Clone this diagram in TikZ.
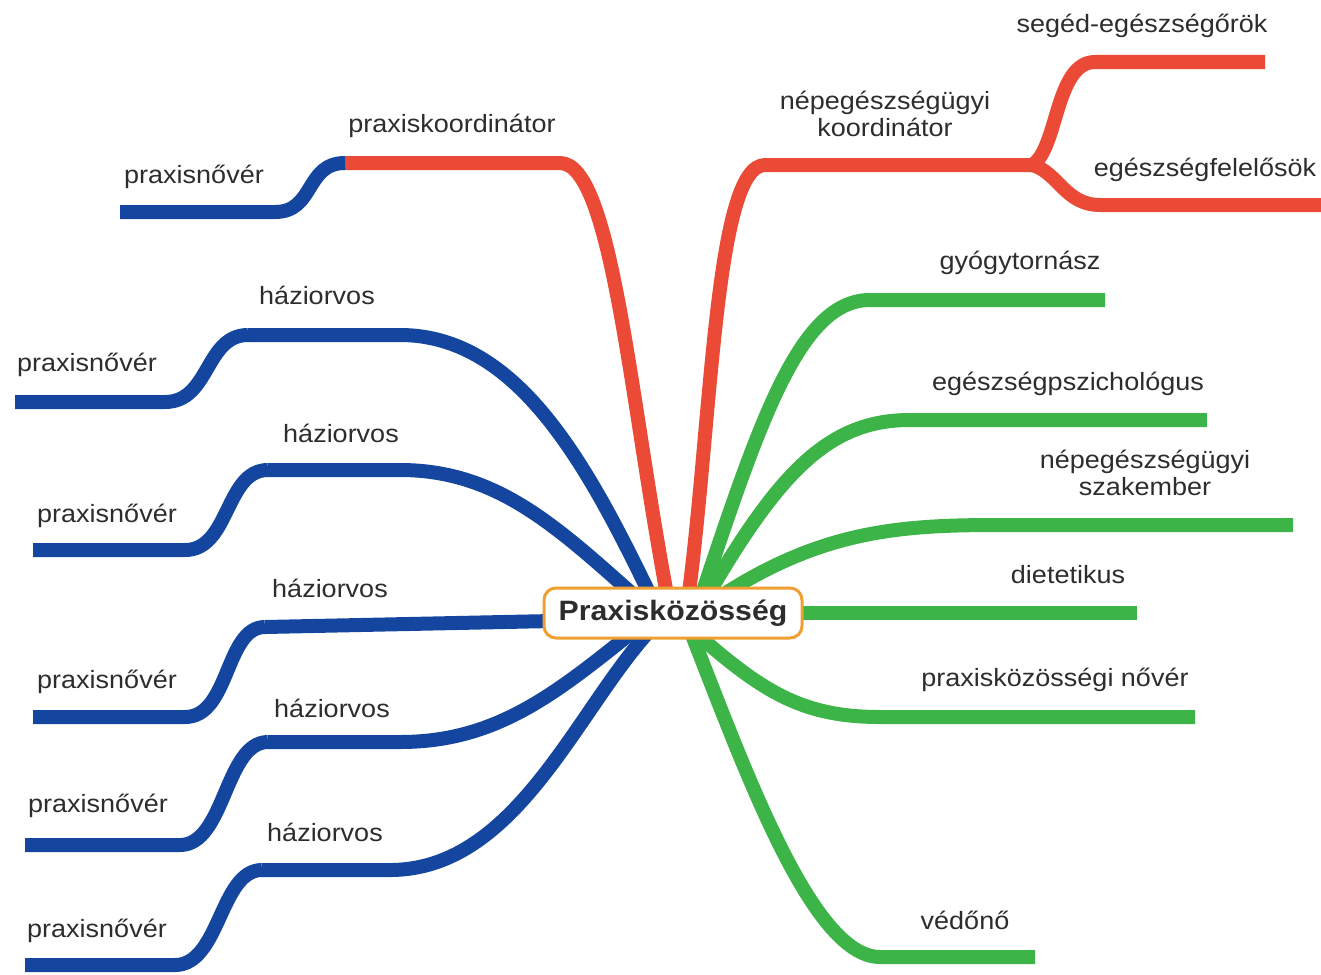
\documentclass[tikz,border=0pt]{standalone}
\usepackage{fontspec}
\setmainfont{Liberation Sans}
\newfontfamily\labfont[FakeStretch=1.08]{Liberation Sans}
\definecolor{mmred}{RGB}{234,74,54}
\definecolor{mmblue}{RGB}{20,70,160}
\definecolor{mmgreen}{RGB}{60,180,72}
\definecolor{mmorange}{RGB}{240,160,50}
\definecolor{mmtext}{RGB}{45,45,45}
\tikzset{
  br/.style={line width=14pt, line cap=butt, line join=round},
  bl/.style={br, draw=mmblue},
  rd/.style={br, draw=mmred},
  gr/.style={br, draw=mmgreen},
  lbl/.style={font=\labfont\fontsize{25}{27}\selectfont, text=mmtext, align=center, inner sep=0pt},
  centerbox/.style={draw=mmorange, line width=3pt, fill=white, rounded corners=12pt,
    minimum width=258pt, minimum height=50pt, inner sep=0pt,
    font=\labfont\bfseries\fontsize{28}{30}\selectfont, text=mmtext}
}
\begin{document}
\begin{tikzpicture}[x=1pt,y=-1pt]
\useasboundingbox (0,0) rectangle (1321,974);
\coordinate (C) at (673,613);
% ---------- red left: praxiskoordinator ----------
\coordinate (pk1) at (560,163); \coordinate (pk0) at (345,163);
\coordinate (pn0a) at (275,212); \coordinate (pn0b) at (120,212);
\draw[rd] (668,600) .. controls (630,400) and (612,163) .. (pk1) -- (pk0);
\draw[bl] (pk0) .. controls (305,163) and (315,212) .. (pn0a) -- (pn0b);
\node[lbl] (lpk) at (452,126) {praxiskoordinátor};
\node[lbl] (lpn0) at (194,177) {praxisnővér};
% ---------- red right: nepegeszsegugyi koordinator ----------
\coordinate (nk1) at (765,165); \coordinate (nk2) at (1032,165);
\coordinate (se1) at (1095,62); \coordinate (se2) at (1265,62);
\coordinate (ef1) at (1100,205); \coordinate (ef2) at (1321,205);
\draw[rd] (688,600) .. controls (712,420) and (715,165) .. (nk1) -- (nk2);
\draw[rd] (nk2) .. controls (1058,150) and (1055,62) .. (se1) -- (se2);
\draw[rd] (nk2) .. controls (1058,172) and (1065,205) .. (ef1) -- (ef2);
\node[lbl] (lnk) at (885,114) {népegészségügyi\\koordinátor};
\node[lbl] (lse) at (1142,26) {segéd-egészségőrök};
\node[lbl] (lef) at (1205,170) {egészségfelelősök};
% ---------- blue left branches ----------
% 1
\coordinate (h1a) at (400,335); \coordinate (h1b) at (248,335);
\coordinate (p1a) at (165,402); \coordinate (p1b) at (15,402);
\draw[bl] (655,605) .. controls (590,470) and (520,335) .. (h1a) -- (h1b);
\draw[bl] (h1b) .. controls (205,335) and (210,402) .. (p1a) -- (p1b);
\node[lbl] (lh1) at (317,295) {háziorvos};
\node[lbl] (lp1) at (87,365) {praxisnővér};
% 2
\coordinate (h2a) at (400,470); \coordinate (h2b) at (268,470);
\coordinate (p2a) at (185,550); \coordinate (p2b) at (33,550);
\draw[bl] (645,605) .. controls (560,530) and (500,470) .. (h2a) -- (h2b);
\draw[bl] (h2b) .. controls (225,470) and (230,550) .. (p2a) -- (p2b);
\node[lbl] (lh2) at (341,433) {háziorvos};
\node[lbl] (lp2) at (107,516) {praxisnővér};
% 3
\coordinate (h3b) at (265,627);
\coordinate (p3a) at (185,717); \coordinate (p3b) at (33,717);
\draw[bl] (600,620) -- (h3b);
\draw[bl] (h3b) .. controls (225,627) and (230,717) .. (p3a) -- (p3b);
\node[lbl] (lh3) at (330,588) {háziorvos};
\node[lbl] (lp3) at (107,682) {praxisnővér};
% 4
\coordinate (h4a) at (400,742); \coordinate (h4b) at (268,742);
\coordinate (p4a) at (180,845); \coordinate (p4b) at (25,845);
\draw[bl] (645,622) .. controls (560,690) and (500,742) .. (h4a) -- (h4b);
\draw[bl] (h4b) .. controls (225,742) and (225,845) .. (p4a) -- (p4b);
\node[lbl] (lh4) at (332,708) {háziorvos};
\node[lbl] (lp4) at (98,806) {praxisnővér};
% 5
\coordinate (h5a) at (390,870); \coordinate (h5b) at (262,870);
\coordinate (p5a) at (175,965); \coordinate (p5b) at (25,965);
\draw[bl] (658,622) .. controls (580,700) and (520,870) .. (h5a) -- (h5b);
\draw[bl] (h5b) .. controls (220,870) and (220,965) .. (p5a) -- (p5b);
\node[lbl] (lh5) at (325,832) {háziorvos};
\node[lbl] (lp5) at (97,931) {praxisnővér};
% ---------- green right branches ----------
\coordinate (g1a) at (870,300); \coordinate (g1b) at (1105,300);
\draw[gr] (700,600) .. controls (760,420) and (800,300) .. (g1a) -- (g1b);
\node[lbl] (lg1) at (1020,263) {gyógytornász};
\coordinate (g2a) at (910,420); \coordinate (g2b) at (1207,420);
\draw[gr] (705,600) .. controls (780,470) and (830,420) .. (g2a) -- (g2b);
\node[lbl] (lg2) at (1068,384) {egészségpszichológus};
\coordinate (g3a) at (1000,525); \coordinate (g3b) at (1293,525);
\draw[gr] (715,600) .. controls (820,530) and (900,525) .. (g3a) -- (g3b);
\node[lbl] (lg3) at (1145,473) {népegészségügyi\\szakember};
\coordinate (g4b) at (1137,613);
\draw[gr] (C) -- (g4b);
\node[lbl] (lg4) at (1068,575) {dietetikus};
\coordinate (g5a) at (880,717); \coordinate (g5b) at (1195,717);
\draw[gr] (690,628) .. controls (760,690) and (800,717) .. (g5a) -- (g5b);
\node[lbl] (lg5) at (1055,680) {praxisközösségi nővér};
\coordinate (g6a) at (880,957); \coordinate (g6b) at (1035,957);
\draw[gr] (690,630) .. controls (745,770) and (812,957) .. (g6a) -- (g6b);
\node[lbl] (lg6) at (965,920) {védőnő};
% ---------- center ----------
\node[centerbox] (center) at (C) {Praxisközösség};
\end{tikzpicture}
\end{document}
